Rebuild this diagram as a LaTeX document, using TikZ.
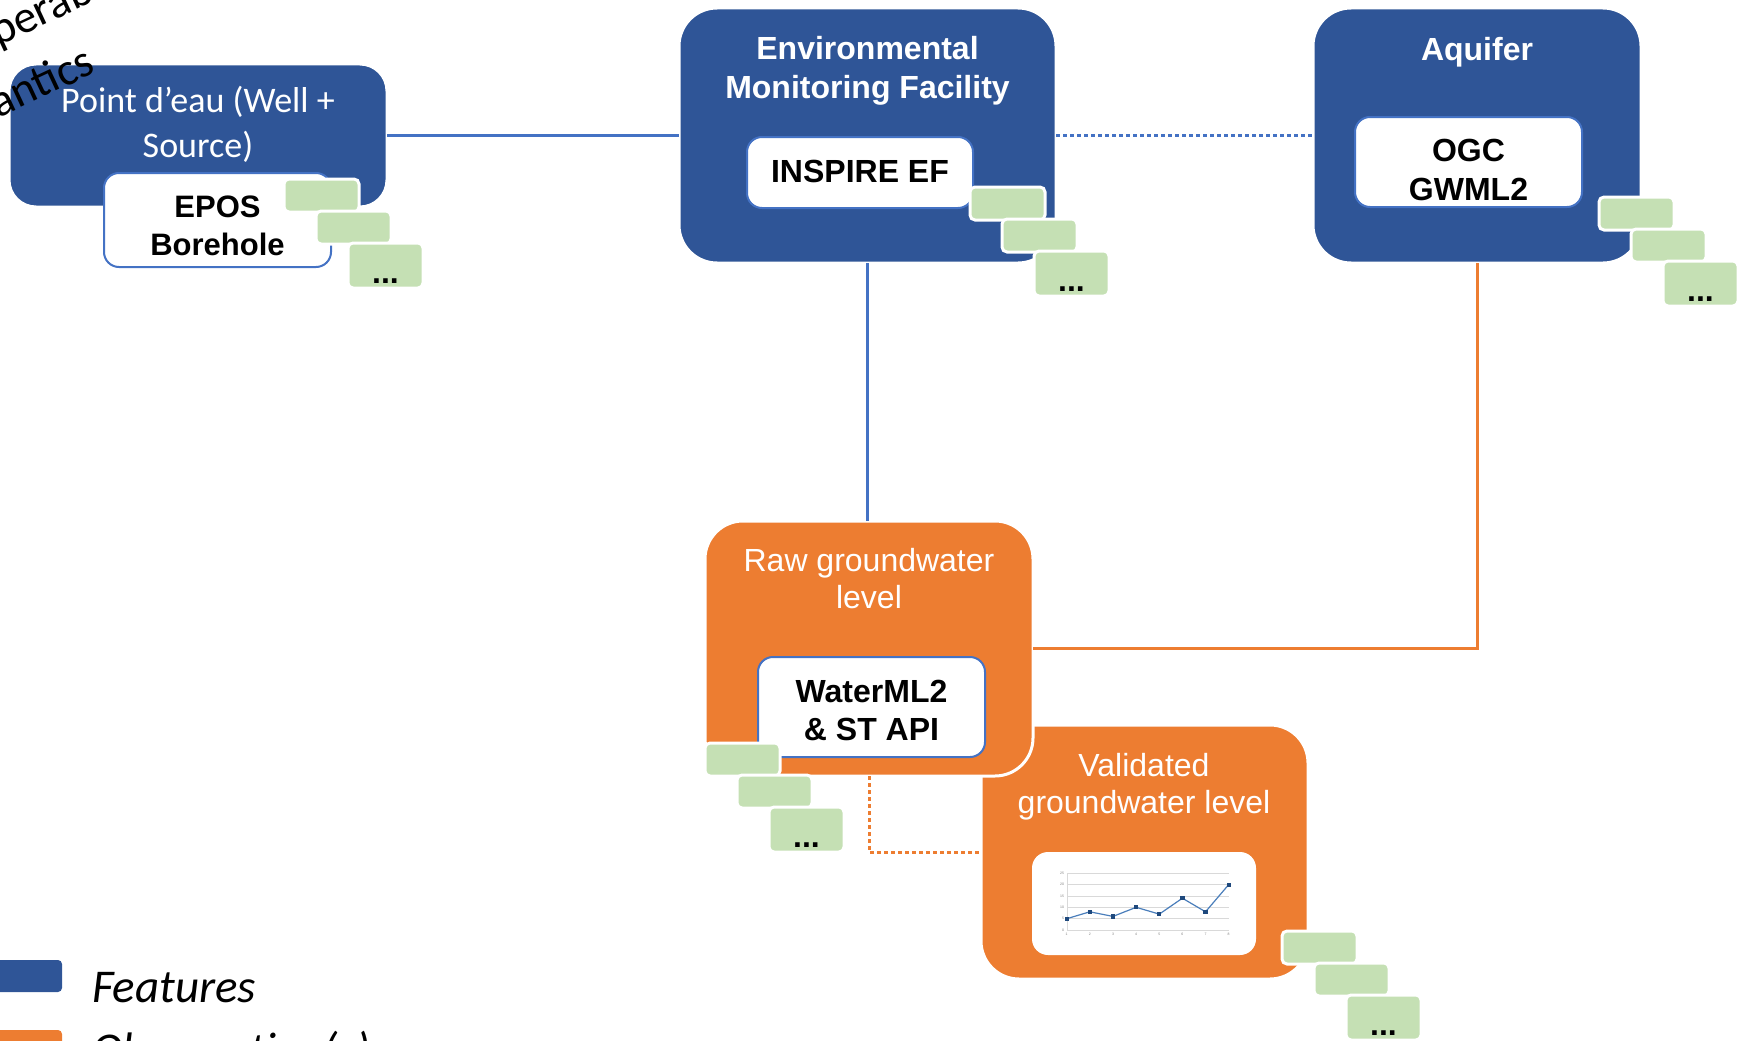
\documentclass[tikz,border=0pt]{standalone}
\usepackage{fontspec}
\setmainfont{Liberation Sans}
\newfontfamily\calibri{Carlito}
\usepackage{tikz}
\usetikzlibrary{positioning, plotmarks}
\usepackage{xcolor}
\definecolor{featblue}{RGB}{47,85,151}
\definecolor{linkblue}{RGB}{68,114,196}
\definecolor{obsorange}{RGB}{237,125,49}
\definecolor{tabgreen}{RGB}{197,224,180}
\definecolor{gridgray}{RGB}{217,217,217}
\definecolor{seriesblue}{RGB}{74,126,187}
\definecolor{markblue}{RGB}{31,73,125}

\begin{document}
\begin{tikzpicture}[x=1pt, y=-1pt, node distance=32pt and 32pt, on grid]
  \tikzstyle{every node}=[inner sep=0pt, outer sep=0pt]
  \tikzstyle{feature}=[rectangle, rounded corners=38pt, fill=featblue, draw=white, line width=3pt, minimum width=328pt, minimum height=255pt]
  \tikzstyle{observation}=[feature, fill=obsorange]
  \tikzstyle{standard}=[rectangle, rounded corners=15pt, fill=white, draw=linkblue, line width=2pt, minimum width=227pt]
  \tikzstyle{tab}=[rectangle, rounded corners=5pt, fill=tabgreen, draw=white, line width=3pt, minimum width=75pt, minimum height=33pt]
  \tikzstyle{moretab}=[tab, text height=40pt, text depth=5pt, font=\bfseries\fontsize{32}{38}\selectfont]
  \tikzstyle{feattitle}=[text=white, align=center, font=\bfseries\fontsize{32}{39}\selectfont]
  \tikzstyle{obstitle}=[text=white, align=center, font=\fontsize{32}{37}\selectfont]
  \tikzstyle{stdname}=[align=center, font=\bfseries\fontsize{31.5}{38}\selectfont]
  \tikzstyle{featlink}=[draw=linkblue, line width=3pt]
  \tikzstyle{obslink}=[draw=obsorange, line width=3pt]
  \tikzstyle{dotlink}=[dash pattern=on 4pt off 3pt]
  \tikzstyle{legendbox}=[rectangle, rounded corners=4pt, minimum width=72pt, minimum height=32pt]
  \tikzstyle{legendtext}=[anchor=base west, font=\calibri\itshape\fontsize{47}{56}\selectfont]
  \tikzstyle{ticklabel}=[text=gray, font=\fontsize{3.5}{4}\selectfont]
  \tikzstyle{sidenote}=[rotate=25, anchor=base west, font=\calibri\fontsize{46}{55}\selectfont]

  \useasboundingbox (0,0) rectangle (1748,1041);
  \clip (0,0) rectangle (1748,1041);

  % features
  \node[feature, rounded corners=27pt, minimum width=378pt, minimum height=143pt] (pde) at (198,135.5) {};
  \node[feattitle, font=\calibri\fontsize{36}{45}\selectfont] (pdetitle) at (198,124.6) {Point d’eau (Well +\\Source)};
  \node[standard, minimum height=94pt] (epos) at (217.5,220) {};
  \node[stdname, font=\bfseries\fontsize{31}{38}\selectfont] (eposname) at (217.5,225.9) {EPOS\\Borehole};
  \node[tab] (pdeA) at (321.5,195.5) {};
  \node[tab, below right=of pdeA] (pdeB) {};
  \node[moretab, below right=38pt and 32pt of pdeB] (pdeC) {...};

  \node[feature, minimum width=377pt] (emf) at (867.5,135.5) {};
  \node[feattitle] (emftitle) at (867.5,70.4) {Environmental\\Monitoring Facility};
  \node[standard, minimum width=226pt, minimum height=71pt] (inspire) at (860,172.5) {};
  \node[stdname, anchor=base, font=\bfseries\fontsize{32}{38}\selectfont] (inspirename) at (860,182) {INSPIRE EF};
  \node[tab] (emfA) at (1007.5,203.5) {};
  \node[tab, below right=of emfA] (emfB) {};
  \node[moretab, below right=38pt and 32pt of emfB] (emfC) {...};

  \node[feature] (aqf) at (1477,135.5) {};
  \node[feattitle, anchor=base] (aqftitle) at (1477,60) {Aquifer};
  \node[standard, minimum height=90pt] (gwml) at (1468.5,162) {};
  \node[stdname, font=\bfseries\fontsize{32}{39}\selectfont] (gwmlname) at (1468.5,169.9) {OGC\\GWML2};
  \node[tab] (aqfA) at (1636.5,213.5) {};
  \node[tab, below right=of aqfA] (aqfB) {};
  \node[moretab, below right=38pt and 32pt of aqfB] (aqfC) {...};

  % observations
  \node[observation, minimum width=327pt, minimum height=254pt] (val) at (1144.5,852) {};
  \node[obstitle] (valtitle) at (1144,786.4) {Validated\\groundwater level};
  \node[rectangle, rounded corners=16pt, fill=white, minimum width=224pt, minimum height=103pt] (chart) at (1144,903.5) {};
  \foreach \v in {0,5,...,25} {
    \draw[gridgray, line width=0.6pt] (1067,{930-2.27*\v}) -- (1229,{930-2.27*\v});
    \node[ticklabel, anchor=east] (ytick\v) at (1064,{930-2.27*\v}) {\v};
  }
  \foreach \i in {1,...,8}
    \node[ticklabel, anchor=north] (xtick\i) at ({1066.7+23.14*(\i-1)},933) {\i};
  \draw[gridgray, line width=0.6pt] (1067,873.2) -- (1067,930);
  \draw[seriesblue, line width=1.2pt, mark=square*, mark size=1.5pt, mark options={fill=markblue, draw=markblue}]
    plot coordinates {(1066.7,918.7) (1089.8,911.8) (1113.0,916.4) (1136.1,907.3)
                      (1159.3,914.1) (1182.4,898.2) (1205.5,911.8) (1228.7,884.6)};
  \node[tab] (valA) at (1319.5,947.5) {};
  \node[tab, below right=of valA] (valB) {};
  \node[moretab, below right=38pt and 32pt of valB] (valC) {...};

  \node[observation] (raw) at (869,648.5) {};
  \node[obstitle] (rawtitle) at (869,579) {Raw groundwater\\level};
  \node[standard, minimum height=100pt] (wml) at (871.5,707) {};
  \node[stdname, font=\bfseries\fontsize{32}{38}\selectfont] (wmlname) at (871.5,710.6) {WaterML2\\\& ST API};
  \node[tab] (rawA) at (742.5,759.5) {};
  \node[tab, below right=of rawA] (rawB) {};
  \node[moretab, below right=38pt and 32pt of rawB] (rawC) {...};

  % links
  \draw[featlink] (pde.east) -- (emf.west);
  \draw[featlink, dotlink] (emf.east) -- (aqf.west);
  \draw[featlink] (emf.south) -- (emf.south |- raw.north);
  \draw[obslink] (aqf.south) |- (raw.east);
  \draw[obslink, dotlink] (raw.south) |- (val.west);

  % legend
  \node[legendbox, fill=featblue] (legfeat) at (26,976) {};
  \node[legendtext] (featlabel) at (92,1002) {Features};
  \node[legendbox, fill=obsorange] (legobs) at (26,1046) {};
  \node[legendtext] (obslabel) at (92,1065) {Observation(s)};

  \node[sidenote] (interopA) at (-104,94) {Interoperable};
  \node[sidenote] (interopB) at (-72,151) {semantics};
\end{tikzpicture}
\end{document}
